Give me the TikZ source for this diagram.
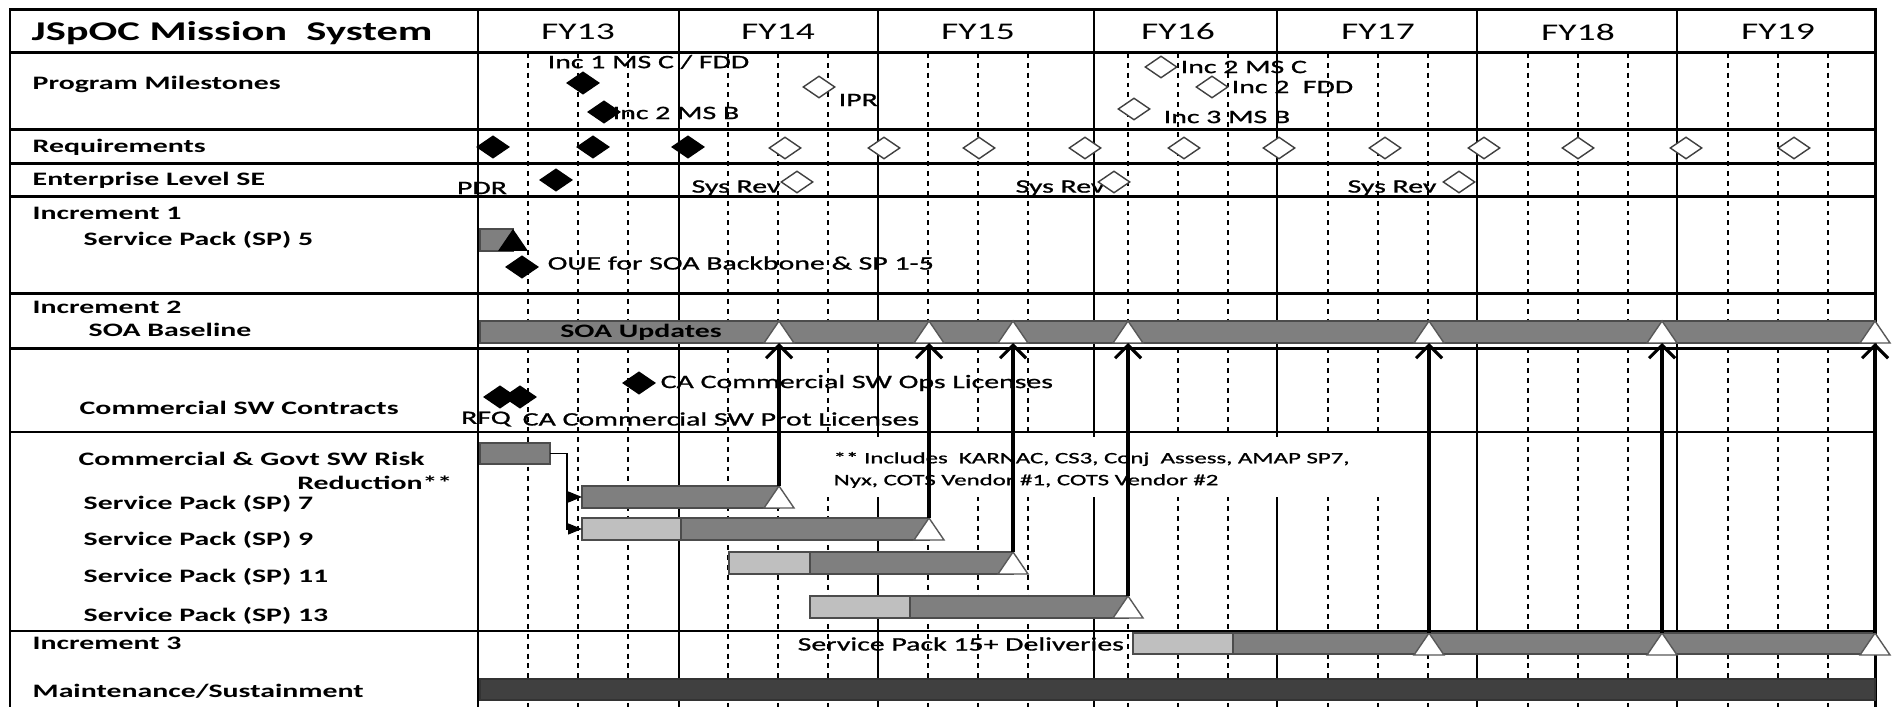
\documentclass[tikz,border=0pt]{standalone}
\usepackage{fontspec}
\setmainfont{Carlito}[FakeStretch=1.57]
\newfontfamily\annfont{Carlito}[FakeStretch=1.57, FakeBold=1]
\usetikzlibrary{shapes.geometric,arrows.meta}
\definecolor{barDark}{HTML}{7F7F7F}
\definecolor{barLight}{HTML}{BFBFBF}
\definecolor{barMaint}{HTML}{404040}
\tikzset{
  rowlabel/.style={anchor=west, inner sep=0pt, font=\fontsize{5.4}{6}\selectfont\bfseries},
  chartnote/.style={anchor=west, inner sep=0pt, font=\fontsize{5.4}{6}\selectfont\annfont},
  notetext/.style={anchor=west, inner sep=0pt, font=\fontsize{4.5}{5}\selectfont\annfont},
  fylabel/.style={font=\fontsize{6.8}{8}\selectfont},
  titlelabel/.style={anchor=west, inner sep=0pt, font=\fontsize{7.7}{9}\selectfont\bfseries},
  frameline/.style={line width=0.85pt},
  yearline/.style={line width=0.55pt},
  qline/.style={line width=0.5pt, dash pattern=on 1.4pt off 1.4pt},
  darkbar/.style={fill=barDark, draw=black!70, line width=0.35pt},
  lightbar/.style={fill=barLight, draw=black!70, line width=0.35pt},
  maintbar/.style={fill=barMaint, draw=black!80, line width=0.35pt},
  msfill/.style={diamond, fill=black, draw=black, minimum width=0.32cm,
                 minimum height=0.22cm, inner sep=0pt},
  msopen/.style={diamond, fill=white, draw=black!75, line width=0.4pt,
                 minimum width=0.32cm, minimum height=0.22cm, inner sep=0pt},
  uparrow/.style={line width=0.9pt, -{Straight Barb[length=1.3mm,width=2.6mm]}},
  elbow/.style={line width=0.4pt, -{Triangle[length=1.4mm,width=1.1mm]}},
  tri/.pic={
    \filldraw[fill=white, draw=black!65, line width=0.4pt] (-15,22) -- (0,0) -- (15,22) -- cycle;
    \coordinate (-top) at (0,0);
    \coordinate (-base) at (0,22);
  }
}
\begin{document}
\begin{tikzpicture}[x=0.01cm,y=-0.01cm]
  \useasboundingbox (0,0) rectangle (1894,707);
  \fill[white] (0,0) rectangle (1894,707);

  % quarters and years
  \foreach \q in {1,...,27} {
    \pgfmathtruncatemacro{\r}{mod(\q,4)}
    \ifnum\r>0 \draw[qline] (478+50*\q,53) -- (478+50*\q,707); \fi
  }
  \foreach \x in {478,679,878,1094,1277,1477,1677}
    \draw[yearline] (\x,10) -- (\x,707);
  \foreach \y in {53,130,164,197,294,349,432,631}
    \draw[frameline] (10,\y) -- (1875,\y);
  \draw[frameline] (10,707) -- (10,10) -- (1875,10) -- (1875,707);

  % header
  \node[titlelabel] (title) at (31,33) {JSpOC Mission~~System};
  \foreach \n [count=\i from 0] in {13,...,19}
    \node[fylabel] (fy\n) at (578+200*\i,32) {FY\n};

  % row labels
  \node[rowlabel] (lbl-prog) at (32,84) {Program Milestones};
  \node[rowlabel] (lbl-req) at (32,147) {Requirements};
  \node[rowlabel] (lbl-ent) at (32,180) {Enterprise Level SE};
  \node[rowlabel] (lbl-inc1) at (32,213) {Increment 1};
  \node[rowlabel] (lbl-sp5) at (83,240) {Service Pack (SP) 5};
  \node[rowlabel] (lbl-inc2) at (32,307) {Increment 2};
  \node[rowlabel] (lbl-soa) at (88,330) {SOA Baseline};
  \node[rowlabel] (lbl-csw) at (79,408) {Commercial SW Contracts};
  \node[rowlabel] (lbl-risk) at (78,459) {Commercial \& Govt SW Risk};
  \node[rowlabel, anchor=east] (lbl-red) at (453,483) {Reduction**};
  \node[rowlabel] (lbl-sp7) at (83,504) {Service Pack (SP) 7};
  \node[rowlabel] (lbl-sp9) at (83,540) {Service Pack (SP) 9};
  \node[rowlabel] (lbl-sp11) at (83,577) {Service Pack (SP) 11};
  \node[rowlabel] (lbl-sp13) at (83,616) {Service Pack (SP) 13};
  \node[rowlabel] (lbl-inc3) at (32,643) {Increment 3};
  \node[rowlabel] (lbl-maint) at (32,691) {Maintenance/Sustainment};

  % program milestones
  \node[msfill] (inc1c) at (583,83) {};
  \node[chartnote] (inc1c-t) at (547,62) {Inc 1 MS C / FDD};
  \node[msfill] (inc2b) at (604,112) {};
  \node[chartnote] (inc2b-t) at (612,113) {Inc 2 MS B};
  \node[msopen] (ipr) at (819,87) {};
  \node[chartnote] (ipr-t) at (838,100) {IPR};
  \node[msopen] (inc2c) at (1161,67) {};
  \node[chartnote] (inc2c-t) at (1180,67) {Inc 2 MS C};
  \node[msopen] (inc2f) at (1212,87) {};
  \node[chartnote] (inc2f-t) at (1231,87) {Inc 2~~FDD};
  \node[msopen] (inc3b) at (1134,109) {};
  \node[chartnote] (inc3b-t) at (1163,117) {Inc 3 MS B};

  % requirements
  \foreach \x [count=\i] in {493,593,688}
    \node[msfill] (req\i) at (\x,147) {};
  \foreach \x [count=\i from 4] in {785,884,979,1085,1184,1279,1385,1484,1578,1686,1794}
    \node[msopen] (req\i) at (\x,148) {};

  % enterprise level SE
  \node[chartnote, anchor=center] (pdr) at (482,188) {PDR};
  \node[msfill] (pdr-d) at (556,180) {};
  \foreach \x/\d [count=\i] in {736/797,1060/1114,1392/1459} {
    \node[chartnote, anchor=center] (sysrev\i) at (\x,188) {Sys Rev};
    \node[msopen] (sysrev\i-d) at (\d,182) {};
  }

  % increment 1
  \filldraw[darkbar] (480,229) rectangle (513,251);
  \fill[black] (498,251) -- (513,229) -- (528,251) -- cycle;
  \node[msfill] (oue) at (522,267) {};
  \node[chartnote] (oue-t) at (547,263) {OUE for SOA Backbone \& SP 1-5};

  % increment 2
  \filldraw[darkbar] (480,321) rectangle (1875,343);
  \node[font=\fontsize{5.4}{6}\selectfont\bfseries, inner sep=0pt] (soa-t) at (641,332) {SOA Updates};
  \foreach \x [count=\i] in {779,929,1013,1128,1429,1662,1875}
    \pic (soa\i) at (\x,321) {tri};

  % commercial SW contracts
  \node[msfill] (rfq) at (500,397) {};
  \node[msfill] (caprot) at (520,397) {};
  \node[chartnote, anchor=center] (rfq-t) at (486,419) {RFQ};
  \node[chartnote] (caprot-t) at (522,419) {CA Commercial SW Prot Licenses};
  \node[msfill] (caops) at (639,383) {};
  \node[chartnote] (caops-t) at (660,383) {CA Commercial SW Ops Licenses};

  % risk reduction and service packs
  \fill[white] (808,437) rectangle (1462,497);
  \node[notetext] (note1) at (833,459) {** Includes~~KARNAC, CS3, Conj~~Assess, AMAP SP7,};
  \node[notetext] (note2) at (833,481) {Nyx, COTS Vendor \#1, COTS Vendor \#2};
  \filldraw[darkbar] (480,443) rectangle (550,464);
  \coordinate (risk-e) at (550,453.5);
  \filldraw[darkbar] (582,486) rectangle (779,508);
  \coordinate (sp7-w) at (582,497);
  \pic (sp7) at (779,486) {tri};
  \filldraw[lightbar] (582,518) rectangle (681,540);
  \filldraw[darkbar] (681,518) rectangle (929,540);
  \coordinate (sp9-w) at (582,529);
  \pic (sp9) at (929,518) {tri};
  \filldraw[lightbar] (729,552) rectangle (810,574);
  \filldraw[darkbar] (810,552) rectangle (1013,574);
  \pic (sp11) at (1013,552) {tri};
  \filldraw[lightbar] (810,596) rectangle (910,618);
  \filldraw[darkbar] (910,596) rectangle (1128,618);
  \pic (sp13) at (1128,596) {tri};
  \draw[elbow] (risk-e) -- ++(17,0) |- (sp7-w);
  \draw[elbow] (risk-e) -- ++(17,0) |- (sp9-w);

  % increment 3
  \node[chartnote] (sp15) at (797,644) {Service Pack 15+ Deliveries};
  \filldraw[lightbar] (1133,633) rectangle (1233,654);
  \filldraw[darkbar] (1233,633) rectangle (1875,654);
  \pic (inc3a) at (1429,633) {tri};
  \pic (inc3b) at (1662,633) {tri};
  \pic (inc3c) at (1875,633) {tri};
  \filldraw[maintbar] (480,679) rectangle (1875,700);

  % deliveries into the SOA baseline
  \draw[uparrow] (sp7-top) -- (soa1-base);
  \draw[uparrow] (sp9-top) -- (soa2-base);
  \draw[uparrow] (sp11-top) -- (soa3-base);
  \draw[uparrow] (sp13-top) -- (soa4-base);
  \draw[uparrow] (inc3a-top) -- (soa5-base);
  \draw[uparrow] (inc3b-top) -- (soa6-base);
  \draw[uparrow] (inc3c-top) -- (soa7-base);
\end{tikzpicture}
\end{document}
